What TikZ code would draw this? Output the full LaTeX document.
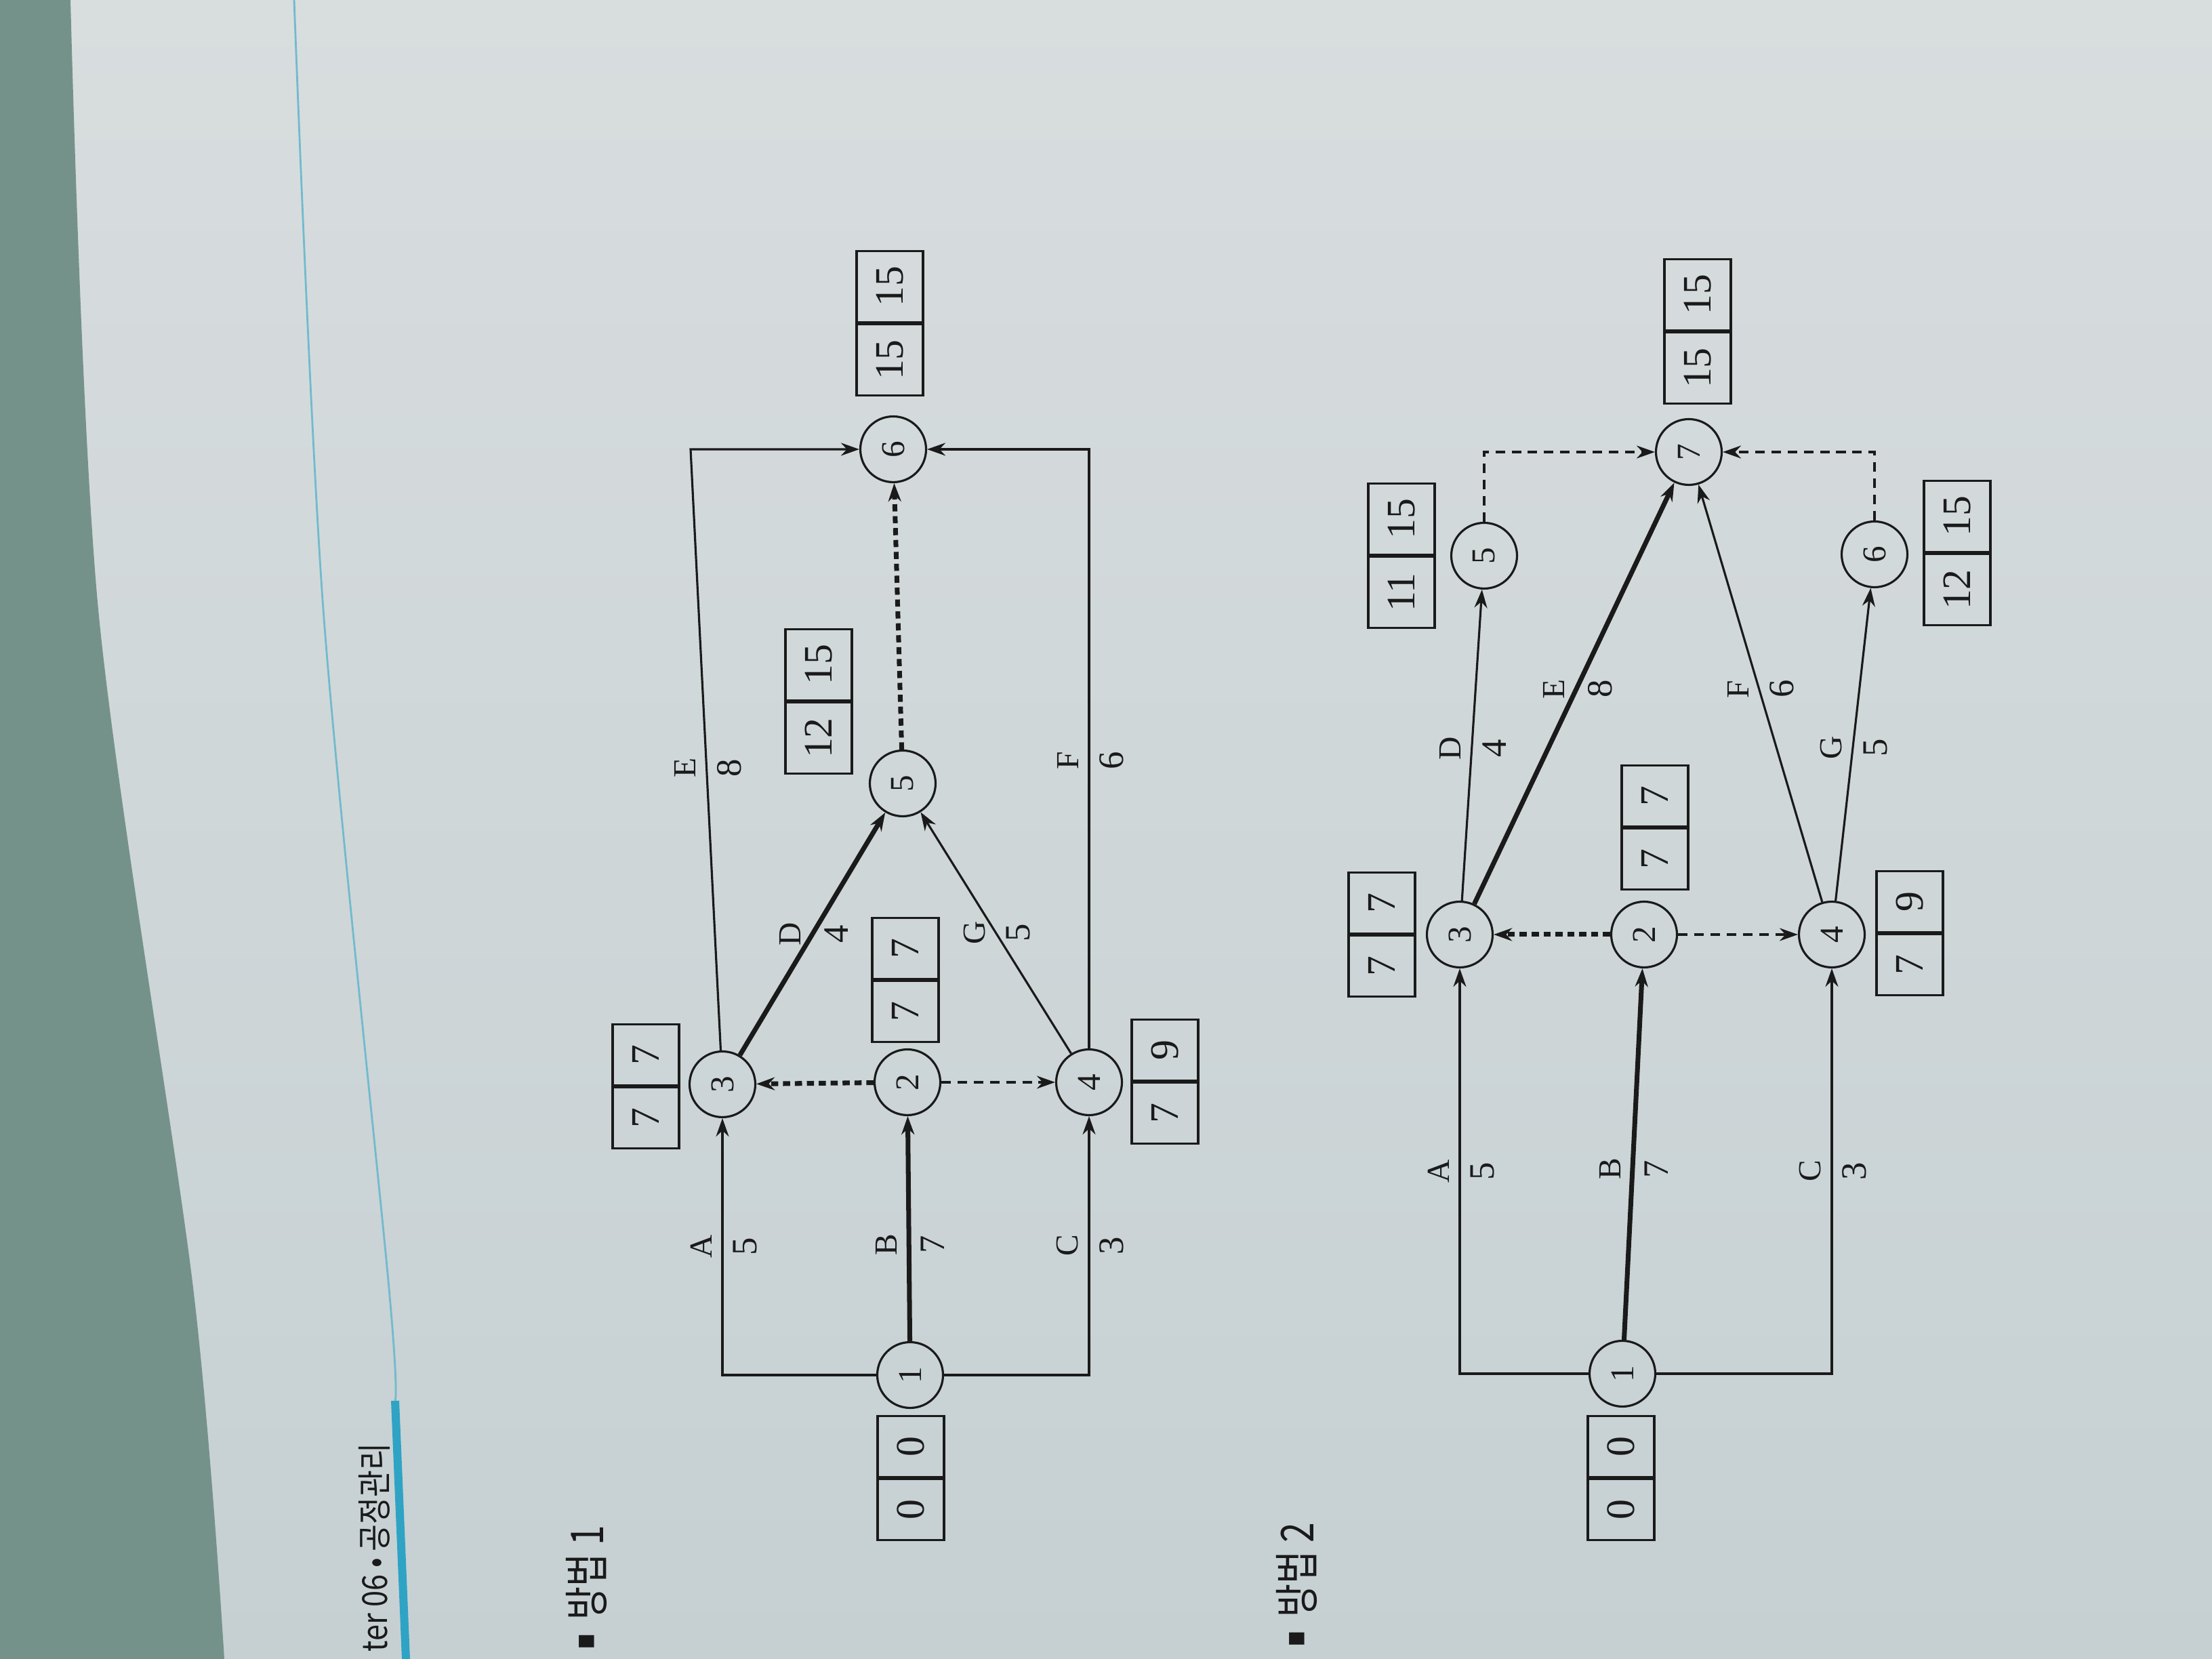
\documentclass[tikz,border=0pt]{standalone}
\usepackage{fontspec}
\setmainfont{Liberation Serif}
\newfontfamily\krfont[FakeStretch=0.8]{Noto Sans CJK KR}
\newfontfamily\hdrfont[FakeStretch=0.85]{Noto Sans CJK KR}
\usetikzlibrary{arrows.meta}
\definecolor{ink}{HTML}{1A1A1A}
\definecolor{pagetop}{HTML}{D8DDDE}
\definecolor{pagebot}{HTML}{C6D0D3}
\definecolor{deskcol}{HTML}{75928A}
\definecolor{rulecol}{HTML}{2FA3C4}
\tikzstyle{event} = [circle, draw=ink, line width=0.9pt, minimum size=0.97cm, inner sep=0pt, font=\fontsize{14}{14}\selectfont]
\tikzstyle{cell} = [rectangle, draw=ink, line width=0.9pt, minimum width=0.9cm, minimum height=0.98cm, inner sep=0pt, font=\fontsize{17}{17}\selectfont]
\tikzstyle{cellw} = [cell, minimum width=1.05cm]
\tikzstyle{arrow} = [draw=ink, line width=0.9pt, -{Stealth[length=2.7mm,width=1.9mm]}]
\tikzstyle{crit} = [arrow, line width=2pt]
\tikzstyle{dummy} = [arrow, dash pattern=on 4pt off 2.8pt]
\tikzstyle{critdummy} = [crit, dash pattern=on 3pt off 2pt]
\tikzstyle{act} = [inner sep=4pt, font=\fontsize{13.5}{13.5}\selectfont]
\tikzstyle{dur} = [inner sep=4pt, font=\fontsize{15}{15}\selectfont]
\begin{document}
\begin{tikzpicture}[color=ink]
\useasboundingbox (0,0) rectangle (32.64,24.48);

% photographed page
\shade [top color=pagetop, bottom color=pagebot] (0,0) rectangle (32.64,24.48);
\fill [deskcol] (0,24.48) -- plot [smooth] coordinates {(1.04,24.48) (1.45,15.49) (2.85,5.48) (3.31,0)} -- (0,0) -- cycle;
\draw [rulecol!60!pagetop, line width=0.8pt] plot [smooth] coordinates {(4.34,24.48) (4.77,15.49) (5.74,5.47) (5.83,3.81)};
\draw [rulecol, line width=1.2mm] (5.83,3.81) -- (5.99,0);

\begin{scope}[shift={(32.64,0)}, rotate=90, transform shape]

\node (hdr) [anchor=east, inner sep=0pt, font=\hdrfont\fontsize{14.5}{14.5}\selectfont] at (3.19,27.12) {ter 06 • 공정관리};
\node (m1) [anchor=west, inner sep=0pt, font=\krfont\fontsize{19}{19}\selectfont] at (0.14,23.99) {\raisebox{0.14cm}{\fontsize{8}{8}\selectfont ■}\hspace{0.2cm}방법 1};
\node (m2) [anchor=west, inner sep=0pt, font=\krfont\fontsize{19}{19}\selectfont] at (0.18,13.51) {\raisebox{0.14cm}{\fontsize{8}{8}\selectfont ■}\hspace{0.2cm}방법 2};

% method 1
\node (p1) [event] at (4.19,19.21) {1};
\node (p2) [event] at (8.51,19.25) {2};
\node (p3) [event] at (8.48,21.98) {3};
\node (p4) [event] at (8.51,16.57) {4};
\node (p5) [event] at (12.92,19.32) {5};
\node (p6) [event] at (17.85,19.46) {6};
\coordinate (pe) at (17.85,22.45);

\node (pt1a) [cell, anchor=east] at (2.67,19.20) {0};
\node (pt1b) [cell, anchor=west] at (pt1a.east) {0};
\node (pt3a) [cell, anchor=east] at (8.45,23.11) {7};
\node (pt3b) [cell, anchor=west] at (pt3a.east) {7};
\node (pt2a) [cell, anchor=east] at (10.02,19.28) {7};
\node (pt2b) [cell, anchor=west] at (pt2a.east) {7};
\node (pt4a) [cell, anchor=east] at (8.52,15.45) {7};
\node (pt4b) [cell, anchor=west] at (pt4a.east) {9};
\node (pt5a) [cellw, anchor=east] at (14.13,20.56) {12};
\node (pt5b) [cellw, anchor=west] at (pt5a.east) {15};
\node (pt6a) [cellw, anchor=east] at (19.71,19.51) {15};
\node (pt6b) [cellw, anchor=west] at (pt6a.east) {15};

\draw [arrow] (p1) |- node[act, above, pos=0.75] {A} node[dur, below, pos=0.75] {5} (p3);
\draw [crit] (p1) -- node[act, above, pos=0.43] {B} node[dur, below, pos=0.43] {7} (p2);
\draw [arrow] (p1) |- node[act, above, pos=0.75] {C} node[dur, below, pos=0.75] {3} (p4);
\draw [critdummy] (p2) -- (p3);
\draw [dummy] (p2) -- (p4);
\draw [crit] (p3) -- node[act, above, pos=0.5] {D} node[dur, below, pos=0.5] {4} (p5);
\draw [arrow] (p4) -- node[act, above, pos=0.5] {G} node[dur, below, pos=0.5] {5} (p5);
\draw [arrow] (p3) -- node[act, above, pos=0.47] {E} node[dur, below, pos=0.47] {8} (pe) -- (p6);
\draw [arrow] (p4) -| node[act, above, pos=0.24] {F} node[dur, below, pos=0.24] {6} (p6);
\draw [critdummy] (p5) -- (p6);

% method 2
\node (q1) [event] at (4.21,8.70) {1};
\node (q2) [event] at (10.69,8.38) {2};
\node (q3) [event] at (10.69,11.10) {3};
\node (q4) [event] at (10.69,5.61) {4};
\node (q5) [event] at (16.28,10.74) {5};
\node (q6) [event] at (16.30,4.98) {6};
\node (q7) [event] at (17.81,7.72) {7};

\node (qt1a) [cell, anchor=east] at (2.67,8.72) {0};
\node (qt1b) [cell, anchor=west] at (qt1a.east) {0};
\node (qt3a) [cell, anchor=east] at (10.69,12.25) {7};
\node (qt3b) [cell, anchor=west] at (qt3a.east) {7};
\node (qt2a) [cell, anchor=east] at (12.27,8.22) {7};
\node (qt2b) [cell, anchor=west] at (qt2a.east) {7};
\node (qt4a) [cell, anchor=east] at (10.71,4.46) {7};
\node (qt4b) [cell, anchor=west] at (qt4a.east) {9};
\node (qt5a) [cellw, anchor=east] at (16.28,11.96) {11};
\node (qt5b) [cellw, anchor=west] at (qt5a.east) {15};
\node (qt6a) [cellw, anchor=east] at (16.32,3.76) {12};
\node (qt6b) [cellw, anchor=west] at (qt6a.east) {15};
\node (qt7a) [cellw, anchor=east] at (19.59,7.59) {15};
\node (qt7b) [cellw, anchor=west] at (qt7a.east) {15};

\draw [arrow] (q1) |- node[act, above, pos=0.75] {A} node[dur, below, pos=0.75] {5} (q3);
\draw [crit] (q1) -- node[act, above, pos=0.46] {B} node[dur, below, pos=0.46] {7} (q2);
\draw [arrow] (q1) |- node[act, above, pos=0.75] {C} node[dur, below, pos=0.75] {3} (q4);
\draw [critdummy] (q2) -- (q3);
\draw [dummy] (q2) -- (q4);
\draw [arrow] (q3) -- node[act, above, pos=0.49] {D} node[dur, below, pos=0.49] {4} (q5);
\draw [crit] (q3) -- node[act, above, pos=0.51] {E} node[dur, below, pos=0.51] {8} (q7);
\draw [arrow] (q4) -- node[act, above, pos=0.51] {F} node[dur, below, pos=0.51] {6} (q7);
\draw [arrow] (q4) -- node[act, above, pos=0.49] {G} node[dur, below, pos=0.49] {5} (q6);
\draw [dummy] (q5) -| (q7);
\draw [dummy] (q6) -| (q7);

\end{scope}
\end{tikzpicture}
\end{document}
